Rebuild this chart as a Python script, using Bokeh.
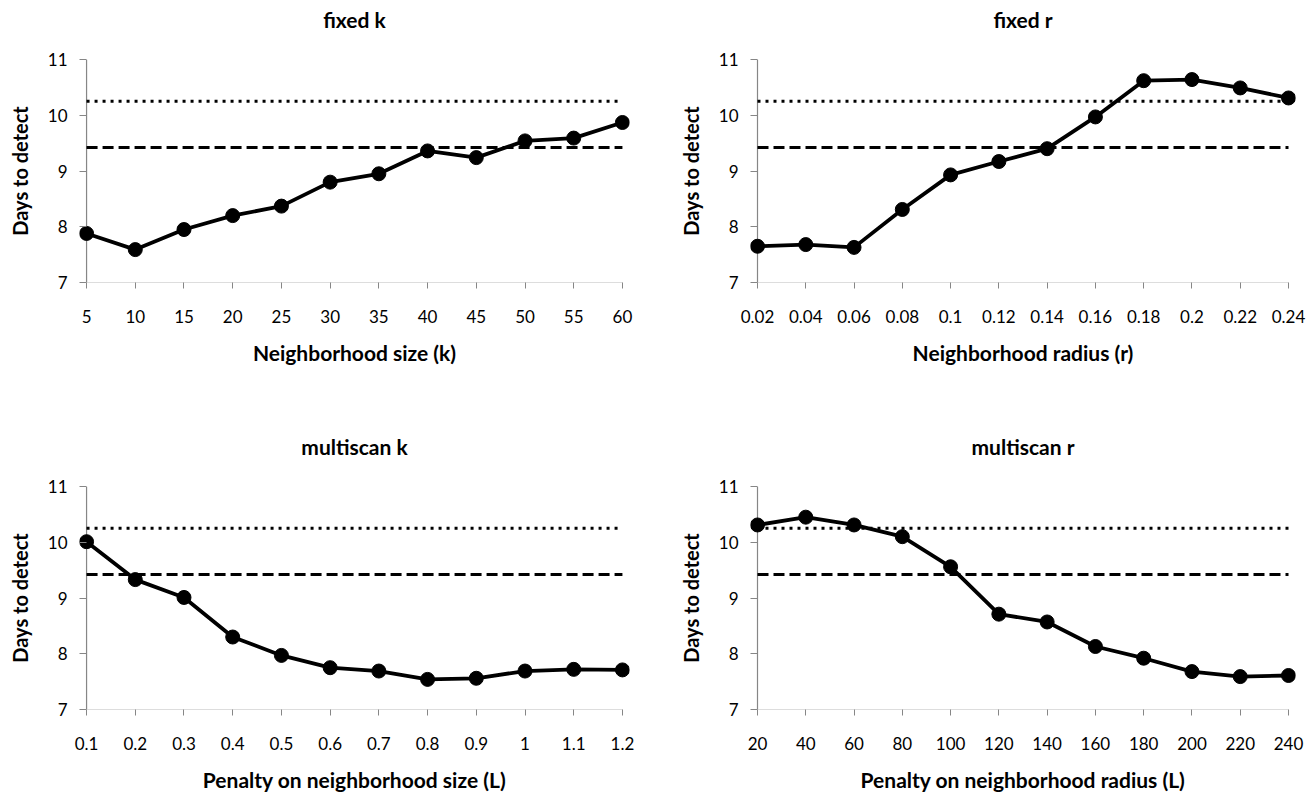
from bokeh.plotting import figure
from bokeh.layouts import column, row
from bokeh.models import Range1d, FixedTicker, Span, BoxAnnotation, Title
from bokeh.embed import file_html
from bokeh.resources import INLINE

# ---------------- data ----------------
k_labels = ["5", "10", "15", "20", "25", "30", "35", "40", "45", "50", "55", "60"]
k_days = [7.88, 7.59, 7.95, 8.20, 8.37, 8.80, 8.95, 9.36, 9.24, 9.54, 9.59, 9.87]

r_labels = ["0.02", "0.04", "0.06", "0.08", "0.1", "0.12", "0.14", "0.16", "0.18", "0.2", "0.22", "0.24"]
r_days = [7.65, 7.68, 7.63, 8.31, 8.93, 9.17, 9.40, 9.97, 10.62, 10.64, 10.49, 10.31]

mk_labels = ["0.1", "0.2", "0.3", "0.4", "0.5", "0.6", "0.7", "0.8", "0.9", "1", "1.1", "1.2"]
mk_days = [10.01, 9.33, 9.01, 8.30, 7.97, 7.75, 7.69, 7.54, 7.56, 7.69, 7.72, 7.71]

mr_labels = ["20", "40", "60", "80", "100", "120", "140", "160", "180", "200", "220", "240"]
mr_days = [10.31, 10.45, 10.31, 10.10, 9.56, 8.71, 8.57, 8.13, 7.92, 7.68, 7.59, 7.61]

dotted_ref = 10.25   # dotted reference level
dashed_ref = 9.42    # dashed reference level

y_ticks = [7, 8, 9, 10, 11]
y_label = "Days to detect"

FONT = "Lato"
AXIS_GRAY = "#868686"


def panel(title, xlabel, labels, days, width, height, bl, br, bt, bb):
    n = len(labels)
    xs = list(range(n))
    pad = 0.145
    p = figure(width=width, height=height, output_backend="svg", toolbar_location=None,
               x_range=Range1d(-pad, n - 1 + pad), y_range=Range1d(7, 11),
               min_border_left=bl, min_border_right=br, min_border_top=bt, min_border_bottom=bb)
    p.outline_line_color = None
    p.xgrid.visible = False
    p.ygrid.visible = False
    p.background_fill_color = "white"
    p.border_fill_color = "white"

    # title: a thin spacer next to the frame, then the real title above it
    p.add_layout(Title(text=" ", text_font_size="1px", standoff=22), "above")
    p.add_layout(Title(text=title, align="center", text_font=FONT, text_font_size="21px",
                       text_font_style="bold", text_color="#000000", standoff=6), "above")

    # axes
    p.xaxis.ticker = FixedTicker(ticks=xs)
    p.xaxis.major_label_overrides = {i: s for i, s in enumerate(labels)}
    p.xaxis.minor_tick_line_color = None
    p.xaxis.axis_line_color = None
    p.xaxis.major_tick_line_color = AXIS_GRAY
    p.xaxis.major_tick_out = 6
    p.xaxis.major_tick_in = 0
    p.xaxis.major_label_standoff = 21
    p.xaxis.major_label_text_font = FONT
    p.xaxis.major_label_text_font_size = "17px"
    p.xaxis.major_label_text_color = "#000000"
    p.xaxis.axis_label = xlabel
    p.xaxis.axis_label_text_font = FONT
    p.xaxis.axis_label_text_font_size = "21px"
    p.xaxis.axis_label_text_font_style = "bold"
    p.xaxis.axis_label_text_color = "#000000"
    p.xaxis.axis_label_standoff = 14

    p.yaxis.ticker = FixedTicker(ticks=y_ticks)
    p.yaxis.minor_tick_line_color = None
    p.yaxis.axis_line_color = None
    p.yaxis.major_tick_line_color = AXIS_GRAY
    p.yaxis.major_tick_out = 0
    p.yaxis.major_tick_in = 7
    p.yaxis.major_label_standoff = 12
    p.yaxis.major_label_text_font = FONT
    p.yaxis.major_label_text_font_size = "17px"
    p.yaxis.major_label_text_color = "#000000"
    p.yaxis.axis_label = y_label
    p.yaxis.axis_label_text_font = FONT
    p.yaxis.axis_label_text_font_size = "20px"
    p.yaxis.axis_label_text_font_style = "bold"
    p.yaxis.axis_label_text_color = "#000000"
    p.yaxis.axis_label_standoff = 13

    # axis lines drawn at the first category and the bottom value
    p.add_layout(Span(location=xs[0], dimension="height", line_color=AXIS_GRAY,
                      line_width=1.2, level="underlay"))
    p.add_layout(BoxAnnotation(left=xs[0], right=xs[-1], bottom=y_ticks[0], top=y_ticks[0],
                               fill_alpha=0, line_color=AXIS_GRAY, line_width=1,
                               level="underlay"))

    # reference lines
    p.line(xs, [dotted_ref] * n, line_color="black", line_width=3,
           line_dash="3 5", line_cap="butt")
    p.line(xs, [dashed_ref] * n, line_color="black", line_width=3,
           line_dash="11 5", line_cap="butt")

    # series
    p.line(xs, days, line_color="black", line_width=3.8, line_join="round")
    p.scatter(xs, days, size=14, marker="circle", fill_color="black", line_color="black")
    return p


p1 = panel("fixed k", "Neighborhood size (k)", k_labels, k_days, 654, 397, 79, 25, 59, 115)
p2 = panel("fixed r", "Neighborhood radius (r)", r_labels, r_days, 654, 397, 96, 13, 59, 115)
p3 = panel("multiscan k", "Penalty on neighborhood size (L)", mk_labels, mk_days, 654, 397, 79, 25, 89, 85)
p4 = panel("multiscan r", "Penalty on neighborhood radius (L)", mr_labels, mr_days, 654, 397, 96, 13, 89, 85)

layout = column(row(p1, p2, spacing=0), row(p3, p4, spacing=0), spacing=0)

open("out.html", "w").write(file_html(layout, INLINE))
